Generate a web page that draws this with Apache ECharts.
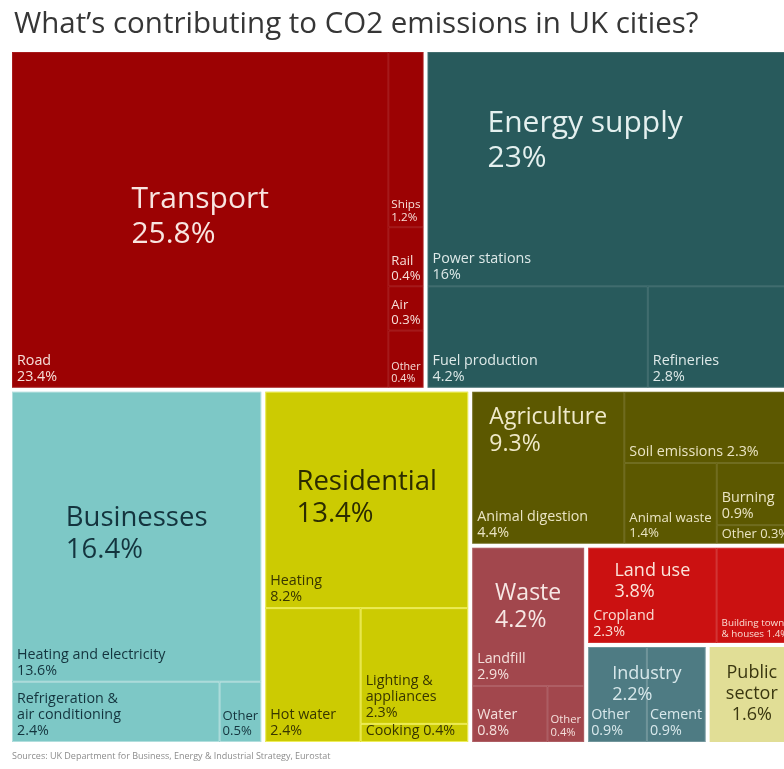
<!DOCTYPE html>
<html>
<head>
<meta charset="utf-8">
<title>What’s contributing to CO2 emissions in UK cities?</title>
<script src="https://cdn.jsdelivr.net/npm/echarts@6.0.0/dist/echarts.min.js"></script>
<style>
  html, body { margin: 0; padding: 0; background: #ffffff; }
  #chart { width: 784px; height: 769px; }
</style>
</head>
<body>
<div id="chart"></div>
<script>
// ---- Share of CO2 emissions in UK cities, % ----
const sectors = ['Transport', 'Energy supply', 'Businesses', 'Residential', 'Agriculture',
                 'Waste', 'Land use', 'Industry', 'Public sector'];
const sectorShares = [25.8, 23, 16.4, 13.4, 9.3, 4.2, 3.8, 2.2, 1.6];

// ---- Breakdown inside each sector, % ----
const transportParts = ['Road', 'Ships', 'Rail', 'Air', 'Other'];
const transportShares = [23.4, 1.2, 0.4, 0.3, 0.4];
const energyParts = ['Power stations', 'Fuel production', 'Refineries'];
const energyShares = [16, 4.2, 2.8];
const businessParts = ['Heating and electricity', 'Refrigeration &\nair conditioning', 'Other'];
const businessShares = [13.6, 2.4, 0.5];
const residentialParts = ['Heating', 'Hot water', 'Lighting &\nappliances', 'Cooking'];
const residentialShares = [8.2, 2.4, 2.3, 0.4];
const agricultureParts = ['Animal digestion', 'Soil emissions', 'Animal waste', 'Burning', 'Other'];
const agricultureShares = [4.4, 2.3, 1.4, 0.9, 0.3];
const wasteParts = ['Landfill', 'Water', 'Other'];
const wasteShares = [2.9, 0.8, 0.4];
const landUseParts = ['Cropland', 'Building towns\n& houses'];
const landUseShares = [2.3, 1.4];
const industryParts = ['Other', 'Cement'];
const industryShares = [0.9, 0.9];

const sectorParts = [
  [transportParts, transportShares],
  [energyParts, energyShares],
  [businessParts, businessShares],
  [residentialParts, residentialShares],
  [agricultureParts, agricultureShares],
  [wasteParts, wasteShares],
  [landUseParts, landUseShares],
  [industryParts, industryShares],
  null
];

// ---- Split plans: 'h' puts parts side by side, 'v' stacks them; numbers are list indices ----
const sectorPlan = ['v', ['h', 0, 1], ['h', 2, 3, ['v', 4, ['h', 5, ['v', 6, ['h', 7, 8]]]]]];
const partPlans = [
  ['h', 0, ['v', 1, 2, 3, 4]],
  ['v', 0, ['h', 1, 2]],
  ['v', 0, ['h', 1, 2]],
  ['v', 0, ['h', 1, ['v', 2, 3]]],
  ['h', 0, ['v', 1, ['h', 2, ['v', 3, 4]]]],
  ['v', 0, ['h', 1, 2]],
  ['h', 0, 1],
  ['h', 0, 1],
  null
];

// ---- Styling ----
const FONT = '"Open Sans", "DejaVu Sans", sans-serif';
const GAP = 2; // half of the white gutter between sectors
const sectorStyle = {
  'Transport':     { fill: '#9c0203', head: '#f8e4e0', text: '#f6dfd9', line: 'rgba(255,255,255,0.10)' },
  'Energy supply': { fill: '#285a5c', head: '#e4f0ef', text: '#dde9e8', line: 'rgba(255,255,255,0.12)' },
  'Businesses':    { fill: '#7dc8c6', head: '#14343e', text: '#14343e', line: 'rgba(255,255,255,0.40)' },
  'Residential':   { fill: '#cccb02', head: '#2c2c00', text: '#383600', line: 'rgba(255,255,140,0.65)' },
  'Agriculture':   { fill: '#5c5800', head: '#efe9c9', text: '#eae4c3', line: 'rgba(255,255,255,0.13)' },
  'Waste':         { fill: '#a2474d', head: '#f7e7e4', text: '#f4e0dc', line: 'rgba(255,255,255,0.13)' },
  'Land use':      { fill: '#cb1111', head: '#fbe4da', text: '#f9ddd3', line: 'rgba(255,255,255,0.16)' },
  'Industry':      { fill: '#4e7b83', head: '#d8e8eb', text: '#d8e8eb', line: 'rgba(255,255,255,0.20)' },
  'Public sector': { fill: '#e1de96', head: '#3a3710', text: '#3a3710', line: 'rgba(255,255,255,0.20)' }
};
// Where each sector heading is centred inside its anchor cell, as [across, down] fractions
const headlineSpot = {
  'Energy supply': [0.43, 0.38],
  'Agriculture': [0.5, 0.26],
  'Waste': [0.5, 0.43],
  'Land use': [0.5, 0.35],
  'Industry': [0.5, 0.39]
};
// Part labels that keep the value on the same line as the name
const inlineLabels = ['Agriculture|Soil emissions', 'Agriculture|Other', 'Residential|Cooking', 'Land use|Building towns\n& houses'];

function headlineSize(share) {
  if (share >= 20) return 30;
  if (share >= 13) return 27.5;
  if (share >= 4) return 23;
  return 18;
}

const measureCtx = document.createElement('canvas').getContext('2d');
function measure(str, size) {
  measureCtx.font = size + 'px ' + FONT;
  return Math.max.apply(null, str.split('\n').map(function (s) { return measureCtx.measureText(s).width; }));
}

// ---- Slice layout in data space (x: 0-100 left→right, y: 0-100 top→bottom) ----
function planTotal(plan, vals) {
  if (typeof plan === 'number') return vals[plan];
  return plan.slice(1).reduce(function (s, p) { return s + planTotal(p, vals); }, 0);
}
function slice(plan, vals, box, out) {
  if (typeof plan === 'number') { out[plan] = box; return; }
  const dir = plan[0];
  const sum = planTotal(plan, vals);
  let pos = dir === 'h' ? box[0] : box[1];
  const span = dir === 'h' ? box[2] - box[0] : box[3] - box[1];
  plan.slice(1).forEach(function (p) {
    const len = span * planTotal(p, vals) / sum;
    if (dir === 'h') slice(p, vals, [pos, box[1], pos + len, box[3]], out);
    else slice(p, vals, [box[0], pos, box[2], pos + len], out);
    pos += len;
  });
}

const sectorBoxes = [];
slice(sectorPlan, sectorShares, [0, 0, 100, 100], sectorBoxes);

const partBoxes = sectorParts.map(function (sp, i) {
  if (!sp) return null;
  const out = [];
  slice(partPlans[i], sp[1], sectorBoxes[i], out);
  return out;
});

// Anchor cell for each heading: the dominant part, or the whole sector
const anchorBoxes = sectorBoxes.map(function (box, i) {
  const sp = sectorParts[i];
  if (!sp) return box;
  const v = sp[1];
  const dominant = v.slice(1).every(function (x) { return v[0] > x; });
  return dominant ? partBoxes[i][0] : box;
});

const sectorData = sectorBoxes.map(function (b, i) { return b.concat(anchorBoxes[i]).concat([i]); });
const partData = [];
partBoxes.forEach(function (boxes, s) {
  if (!boxes) return;
  boxes.forEach(function (b, p) { partData.push(b.concat(sectorBoxes[s]).concat([s, p])); });
});

function pixelBox(api, a) {
  const p0 = api.coord([api.value(a), api.value(a + 1)]);
  const p1 = api.coord([api.value(a + 2), api.value(a + 3)]);
  return { x0: p0[0], y0: p0[1], x1: p1[0], y1: p1[1] };
}

function renderSector(params, api) {
  const st = sectorStyle[sectors[api.value(8)]];
  const b = pixelBox(api, 0);
  return {
    type: 'rect',
    shape: { x: b.x0 + GAP, y: b.y0 + GAP, width: b.x1 - b.x0 - 2 * GAP, height: b.y1 - b.y0 - 2 * GAP },
    style: { fill: st.fill }
  };
}

function renderPart(params, api) {
  const s = api.value(8), p = api.value(9);
  const sector = sectors[s], st = sectorStyle[sector];
  const name = sectorParts[s][0][p], share = sectorParts[s][1][p];
  const b = pixelBox(api, 0), o = pixelBox(api, 4);
  const x0 = Math.max(b.x0, o.x0 + GAP), x1 = Math.min(b.x1, o.x1 - GAP);
  const y0 = Math.max(b.y0, o.y0 + GAP), y1 = Math.min(b.y1, o.y1 - GAP);
  const w = x1 - x0;
  const inline = inlineLabels.indexOf(sector + '|' + name) >= 0;
  const text = name + (inline ? ' ' : '\n') + share + '%';
  const pad = w < 60 ? 3 : 5;
  let size = 14.3;
  const tw = measure(text, size);
  if (tw > w - 2 * pad) size = Math.max(9, size * (w - 2 * pad) / tw);
  return {
    type: 'group',
    children: [
      {
        type: 'rect',
        shape: { x: x0 + 0.5, y: y0 + 0.5, width: w - 1, height: y1 - y0 - 1 },
        style: { fill: 'none', stroke: st.line, lineWidth: 1 }
      },
      {
        type: 'text',
        x: x0 + pad,
        y: y1 - 3,
        style: {
          text: text, fill: st.text, fontSize: size, fontFamily: FONT,
          lineHeight: Math.round(size * 1.12), align: 'left', verticalAlign: 'bottom'
        }
      }
    ]
  };
}

function renderHeadline(params, api) {
  const i = api.value(8);
  const name = sectors[i], st = sectorStyle[name];
  const b = pixelBox(api, 0), a = pixelBox(api, 4);
  const r = { x0: b.x0 + GAP, y0: b.y0 + GAP, x1: b.x1 - GAP, y1: b.y1 - GAP };
  const ax0 = Math.max(a.x0, r.x0), ax1 = Math.min(a.x1, r.x1);
  const ay0 = Math.max(a.y0, r.y0), ay1 = Math.min(a.y1, r.y1);
  const size = headlineSize(sectorShares[i]);
  let text = name + '\n' + sectorShares[i] + '%';
  let align = 'left';
  if (measure(name, size) > r.x1 - r.x0 - 12) {
    text = name.replace(/ /g, '\n') + '\n' + sectorShares[i] + '%';
    align = 'center';
  }
  const tw = measure(text, size);
  const spot = headlineSpot[name] || [0.5, 0.49];
  const cx = ax0 + (ax1 - ax0) * spot[0];
  const cy = ay0 + (ay1 - ay0) * spot[1];
  return {
    type: 'text',
    x: align === 'left' ? cx - tw / 2 : cx,
    y: cy,
    style: {
      text: text, fill: st.head, fontSize: size, fontFamily: FONT,
      lineHeight: Math.round(size * 1.17), align: align, verticalAlign: 'middle'
    }
  };
}

const chart = echarts.init(document.getElementById('chart'));
chart.setOption({
  animation: false,
  backgroundColor: '#ffffff',
  title: {
    text: 'What’s contributing to CO2 emissions in UK cities?',
    left: 9, top: 5,
    textStyle: { fontFamily: FONT, fontSize: 29.5, fontWeight: 'normal', color: '#363636' }
  },
  grid: { left: 10, top: 50, width: 786, height: 694, outerBoundsMode: 'none', containLabel: false },
  xAxis: { type: 'value', min: 0, max: 100, show: false },
  yAxis: { type: 'value', min: 0, max: 100, inverse: true, show: false },
  graphic: [{
    type: 'text', left: 12, top: 752,
    style: {
      text: 'Sources: UK Department for Business, Energy & Industrial Strategy, Eurostat',
      fontFamily: FONT, fontSize: 9, fill: '#8c8c8c'
    }
  }],
  series: [
    { type: 'custom', name: 'sectors', silent: true, z: 1, clip: false, renderItem: renderSector, data: sectorData },
    { type: 'custom', name: 'parts', silent: true, z: 2, clip: false, renderItem: renderPart, data: partData },
    { type: 'custom', name: 'headlines', silent: true, z: 3, clip: false, renderItem: renderHeadline, data: sectorData }
  ]
});
</script>
</body>
</html>
